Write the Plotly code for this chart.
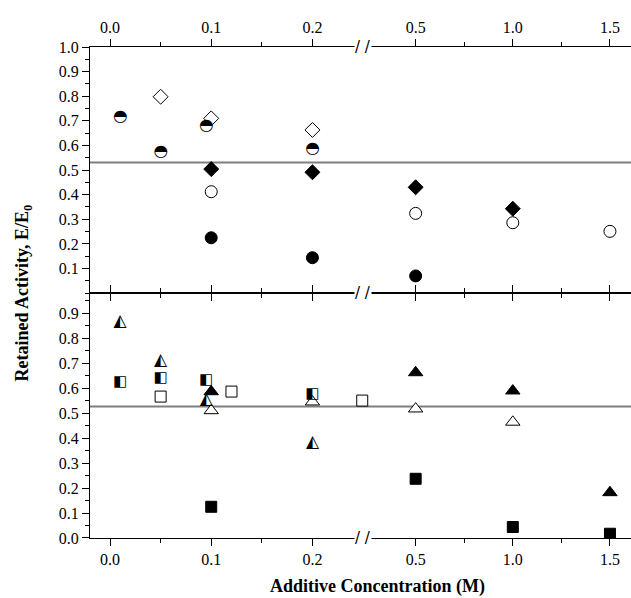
import plotly.graph_objects as go

# ---------------- data ----------------
major_ticks = [0.0, 0.1, 0.2, 0.5, 1.0, 1.5]
major_labels = ["0.0", "0.1", "0.2", "0.5", "1.0", "1.5"]
minor_ticks = [0.05, 0.15, 0.75, 1.25]

top_yticks = [0.1, 0.2, 0.3, 0.4, 0.5, 0.6, 0.7, 0.8, 0.9, 1.0]
bot_yticks = [0.0, 0.1, 0.2, 0.3, 0.4, 0.5, 0.6, 0.7, 0.8, 0.9]

ref_top = 0.531
ref_bottom = 0.526

# top panel
half_circle_x = [0.01, 0.05, 0.095, 0.2]
half_circle_y = [0.717, 0.575, 0.679, 0.586]
open_diamond_x = [0.05, 0.1, 0.2]
open_diamond_y = [0.798, 0.71, 0.663]
filled_diamond_x = [0.1, 0.2, 0.5, 1.0]
filled_diamond_y = [0.504, 0.491, 0.43, 0.343]
open_circle_x = [0.1, 0.5, 1.0, 1.5]
open_circle_y = [0.412, 0.324, 0.286, 0.251]
filled_circle_x = [0.1, 0.2, 0.5]
filled_circle_y = [0.225, 0.144, 0.07]

# bottom panel
half_triangle_x = [0.01, 0.05, 0.095, 0.2]
half_triangle_y = [0.864, 0.709, 0.553, 0.382]
open_triangle_x = [0.1, 0.2, 0.5, 1.0]
open_triangle_y = [0.51, 0.545, 0.517, 0.464]
filled_triangle_x = [0.1, 0.5, 1.0, 1.5]
filled_triangle_y = [0.586, 0.662, 0.589, 0.182]
half_square_x = [0.01, 0.05, 0.095, 0.2]
half_square_y = [0.622, 0.64, 0.633, 0.577]
open_square_x = [0.05, 0.12, 0.225]
open_square_y = [0.566, 0.586, 0.55]
filled_square_x = [0.1, 0.5, 1.0, 1.5]
filled_square_y = [0.125, 0.237, 0.044, 0.017]


# broken x axis: 0-0.2 segment and 0.5-1.5 segment
def xpos(v):
    if v <= 0.2 + 1e-9:
        return v * 10.0
    return 3.02 + (v - 0.5) * 1.92


def P(vals):
    return [xpos(v) for v in vals]


BREAK = 2.5
SERIF = "Liberation Serif, Times New Roman, serif"

fig = go.Figure()


def marker_trace(x, y, symbol, size, fill, yaxis, xaxis):
    fig.add_trace(go.Scatter(
        x=P(x), y=y, mode="markers", xaxis=xaxis, yaxis=yaxis,
        marker=dict(symbol=symbol, size=size, color=fill,
                    line=dict(color="black", width=1)),
        showlegend=False, hoverinfo="skip"))


def glyph_trace(x, y, glyph, size, yaxis, xaxis):
    fig.add_trace(go.Scatter(
        x=P(x), y=y, mode="text", xaxis=xaxis, yaxis=yaxis,
        text=[glyph] * len(x), textposition="middle center",
        textfont=dict(family="DejaVu Sans", size=size, color="black"),
        showlegend=False, hoverinfo="skip"))


# top panel (x2, y2)
marker_trace(open_diamond_x, open_diamond_y, "diamond", 11.5, "white", "y2", "x2")
glyph_trace(half_circle_x, half_circle_y, "\u25D3", 16.5, "y2", "x2")
marker_trace(filled_diamond_x, filled_diamond_y, "diamond", 11.5, "black", "y2", "x2")
marker_trace(open_circle_x, open_circle_y, "circle", 12, "white", "y2", "x2")
marker_trace(filled_circle_x, filled_circle_y, "circle", 12, "black", "y2", "x2")

# bottom panel (x, y)
marker_trace(open_square_x, open_square_y, "square", 11, "white", "y", "x")
marker_trace(open_triangle_x, open_triangle_y, "triangle-up", 12.5, "white", "y", "x")
glyph_trace(half_triangle_x, half_triangle_y, "\u25ED", 17, "y", "x")
marker_trace(filled_triangle_x, filled_triangle_y, "triangle-up", 12.5, "black", "y", "x")
glyph_trace(half_square_x, half_square_y, "\u25E7", 15, "y", "x")
marker_trace(filled_square_x, filled_square_y, "square", 11, "black", "y", "x")

xcommon = dict(
    range=[-0.198, 5.148], showgrid=False, zeroline=False,
    showline=True, linecolor="black", linewidth=1,
    tickmode="array", tickvals=P(major_ticks), ticktext=major_labels,
    ticks="outside", ticklen=7, tickwidth=1, tickcolor="black",
    mirror="ticks",
    minor=dict(tickmode="array", tickvals=P(minor_ticks), ticks="outside",
               ticklen=4, tickwidth=1, tickcolor="black"),
    tickfont=dict(family=SERIF, size=16, color="black"),
)
ycommon = dict(
    showgrid=False, zeroline=False, showline=True, linecolor="black",
    linewidth=1, ticks="outside", ticklen=7, tickwidth=1, tickcolor="black",
    minor=dict(dtick=0.05, ticks="outside", ticklen=4, tickwidth=1,
               tickcolor="black"),
    tickfont=dict(family=SERIF, size=16, color="black"), anchor="x",
)

split = 0.4987
fig.update_layout(
    width=631, height=598,
    margin=dict(l=90, r=0, t=47, b=60),
    paper_bgcolor="white", plot_bgcolor="white",
    xaxis=dict(**xcommon, anchor="y", side="bottom"),
    xaxis2=dict(**xcommon, anchor="y2", side="top", matches="x"),
    yaxis=dict(**ycommon, domain=[0, split], range=[0, 0.98],
               tickmode="array", tickvals=bot_yticks,
               ticktext=["%.1f" % v for v in bot_yticks]),
    yaxis2=dict(**ycommon, domain=[split, 1], range=[0, 1.0],
                tickmode="array", tickvals=top_yticks,
                ticktext=["%.1f" % v for v in top_yticks]),
    showlegend=False,
)

# reference lines
fig.add_shape(type="line", xref="paper", x0=0, x1=1, yref="y2",
              y0=ref_top, y1=ref_top, line=dict(color="#7f7f7f", width=2),
              layer="below")
fig.add_shape(type="line", xref="paper", x0=0, x1=1, yref="y",
              y0=ref_bottom, y1=ref_bottom, line=dict(color="#7f7f7f", width=2),
              layer="below")

# axis break marks
for yy in [0.0, split, 1.0]:
    fig.add_annotation(x=BREAK, xref="x", y=yy, yref="paper", text="/ /",
                       showarrow=False, bgcolor="white", borderpad=0,
                       font=dict(family="DejaVu Sans", size=15, color="black"),
                       xanchor="center", yanchor="middle")

# titles
fig.add_annotation(text="<b>Retained Activity, E/E<sub>0</sub></b>",
                   xref="paper", yref="paper", x=-0.122, y=0.5,
                   textangle=-90, showarrow=False,
                   font=dict(family=SERIF, size=18, color="black"),
                   xanchor="center", yanchor="middle")
fig.add_annotation(text="<b>Additive Concentration (M)</b>",
                   xref="paper", yref="paper", x=(377 - 90) / 541, y=-0.098,
                   showarrow=False,
                   font=dict(family=SERIF, size=18, color="black"),
                   xanchor="center", yanchor="middle")

fig.write_html(
    "out.html",
    config={"displayModeBar": False, "staticPlot": True},
    post_script="document.body.style.margin='0';document.body.style.padding='0';",
)
